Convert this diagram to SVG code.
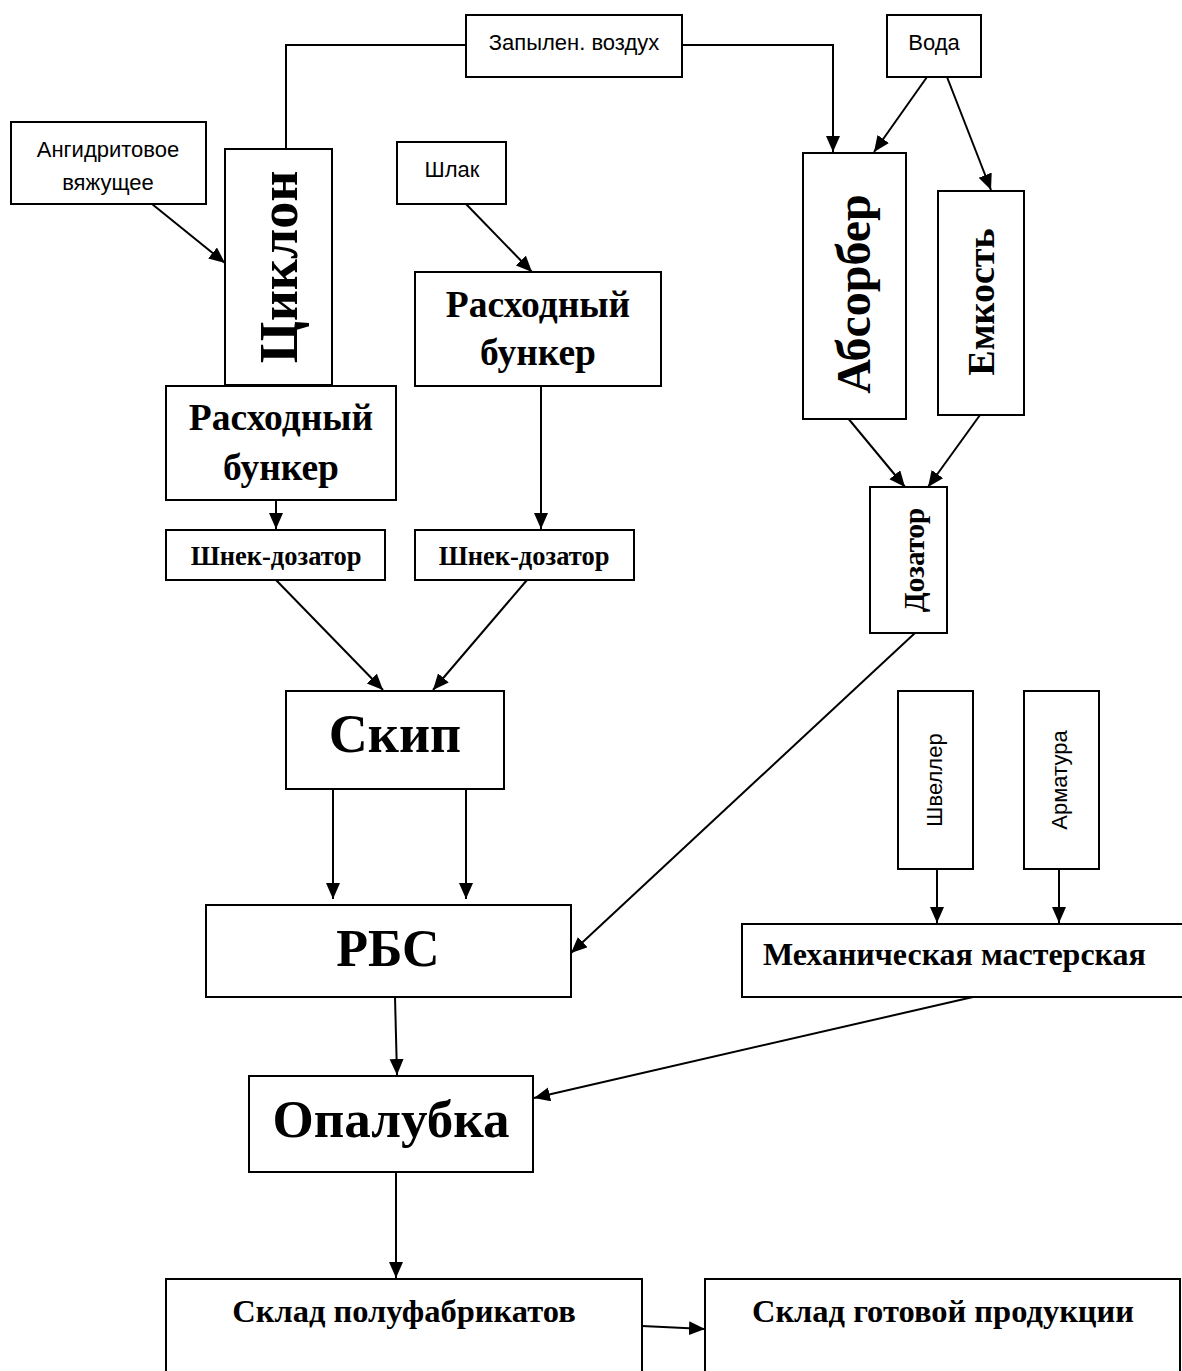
<svg xmlns="http://www.w3.org/2000/svg" width="1182" height="1371" viewBox="0 0 1182 1371">
<style>
.box{fill:#fff;stroke:#000;stroke-width:2}
.s{font-family:"Liberation Sans",Arial,sans-serif;font-size:22px;fill:#000;text-anchor:middle}
.b{font-family:"Liberation Serif","Times New Roman",serif;font-weight:bold;fill:#000;text-anchor:middle}
.c{fill:none;stroke:#000;stroke-width:2}
</style>
<defs>
<marker id="ah" markerUnits="userSpaceOnUse" markerWidth="17" markerHeight="15" refX="16" refY="7" orient="auto">
<path d="M0,0 L16,7 L0,14 z" fill="#000"/>
</marker>
</defs>
<rect width="1182" height="1371" fill="#fff"/>
<g id="connectors">
<polyline class="c" points="466,45 286,45 286,149"/>
<polyline class="c" points="682,45 833,45 833,152" marker-end="url(#ah)"/>
<line class="c" x1="152" y1="204" x2="225" y2="263" marker-end="url(#ah)"/>
<line class="c" x1="466" y1="204" x2="532" y2="272" marker-end="url(#ah)"/>
<line class="c" x1="927" y1="77" x2="874" y2="152" marker-end="url(#ah)"/>
<line class="c" x1="947" y1="77" x2="991" y2="190" marker-end="url(#ah)"/>
<line class="c" x1="847" y1="417" x2="905" y2="487" marker-end="url(#ah)"/>
<line class="c" x1="980" y1="415" x2="928" y2="487" marker-end="url(#ah)"/>
<line class="c" x1="276" y1="500" x2="276" y2="529" marker-end="url(#ah)"/>
<line class="c" x1="541" y1="386" x2="541" y2="529" marker-end="url(#ah)"/>
<line class="c" x1="276" y1="580" x2="383" y2="690" marker-end="url(#ah)"/>
<line class="c" x1="527" y1="580" x2="433" y2="690" marker-end="url(#ah)"/>
<line class="c" x1="333" y1="789" x2="333" y2="899" marker-end="url(#ah)"/>
<line class="c" x1="466" y1="789" x2="466" y2="899" marker-end="url(#ah)"/>
<line class="c" x1="915" y1="633" x2="571" y2="953" marker-end="url(#ah)"/>
<line class="c" x1="937" y1="869" x2="937" y2="923" marker-end="url(#ah)"/>
<line class="c" x1="1059" y1="869" x2="1059" y2="923" marker-end="url(#ah)"/>
<line class="c" x1="395" y1="997" x2="397" y2="1075" marker-end="url(#ah)"/>
<line class="c" x1="973" y1="997" x2="534" y2="1098" marker-end="url(#ah)"/>
<line class="c" x1="396" y1="1172" x2="396" y2="1278" marker-end="url(#ah)"/>
<line class="c" x1="642" y1="1326" x2="705" y2="1329" stroke-width="3" marker-end="url(#ah)"/>
</g>
<g id="n-air"><rect class="box" x="466" y="15" width="216" height="62"/><text class="s" x="574" y="50">Запылен. воздух</text></g>
<g id="n-water"><rect class="box" x="887" y="15" width="94" height="62"/><text class="s" x="934" y="50">Вода</text></g>
<g id="n-anhydrite"><rect class="box" x="11" y="122" width="195" height="82"/><text class="s" x="108" y="157">Ангидритовое</text><text class="s" x="108" y="190">вяжущее</text></g>
<g id="n-cyclone"><rect class="box" x="225" y="149" width="107" height="236"/><text class="b" font-size="54" transform="translate(297,267) rotate(-90)">Циклон</text></g>
<g id="n-slag"><rect class="box" x="397" y="142" width="109" height="62"/><text class="s" x="452" y="177">Шлак</text></g>
<g id="n-bunker2"><rect class="box" x="415" y="272" width="246" height="114"/><text class="b" font-size="37.5" x="538" y="317">Расходный</text><text class="b" font-size="37.5" x="538" y="365">бункер</text></g>
<g id="n-bunker1"><rect class="box" x="166" y="386" width="230" height="114"/><text class="b" font-size="37.5" x="281" y="430">Расходный</text><text class="b" font-size="37.5" x="281" y="480">бункер</text></g>
<g id="n-screw1"><rect class="box" x="166" y="530" width="219" height="50"/><text class="b" font-size="26.5" x="276" y="565">Шнек-дозатор</text></g>
<g id="n-screw2"><rect class="box" x="415" y="530" width="219" height="50"/><text class="b" font-size="26.5" x="524" y="565">Шнек-дозатор</text></g>
<g id="n-skip"><rect class="box" x="286" y="691" width="218" height="98"/><text class="b" font-size="54" x="395" y="752">Скип</text></g>
<g id="n-rbs"><rect class="box" x="206" y="905" width="365" height="92"/><text class="b" font-size="52" x="388" y="966">РБС</text></g>
<g id="n-absorber"><rect class="box" x="803" y="153" width="103" height="266"/><text class="b" font-size="48" transform="translate(870,294) rotate(-90)">Абсорбер</text></g>
<g id="n-tank"><rect class="box" x="938" y="191" width="86" height="224"/><text class="b" font-size="38" transform="translate(994,302) rotate(-90)">Емкость</text></g>
<g id="n-doser"><rect class="box" x="870" y="487" width="77" height="146"/><text class="b" font-size="29" transform="translate(924,560) rotate(-90)">Дозатор</text></g>
<g id="n-channel"><rect class="box" x="898" y="691" width="75" height="178"/><text class="s" transform="translate(942,780) rotate(-90)">Швеллер</text></g>
<g id="n-rebar"><rect class="box" x="1024" y="691" width="75" height="178"/><text class="s" transform="translate(1067,780) rotate(-90)">Арматура</text></g>
<g id="n-workshop"><rect class="box" x="742" y="924" width="450" height="73"/><text class="b" font-size="32" x="763" y="965" style="text-anchor:start">Механическая мастерская</text></g>
<g id="n-formwork"><rect class="box" x="249" y="1076" width="284" height="96"/><text class="b" font-size="53" x="391" y="1137">Опалубка</text></g>
<g id="n-semi"><rect class="box" x="166" y="1279" width="476" height="110"/><text class="b" font-size="32.5" x="404" y="1322">Склад полуфабрикатов</text></g>
<g id="n-finished"><rect class="box" x="705" y="1279" width="475" height="110"/><text class="b" font-size="32.5" x="943" y="1322">Склад готовой продукции</text></g>
</svg>
